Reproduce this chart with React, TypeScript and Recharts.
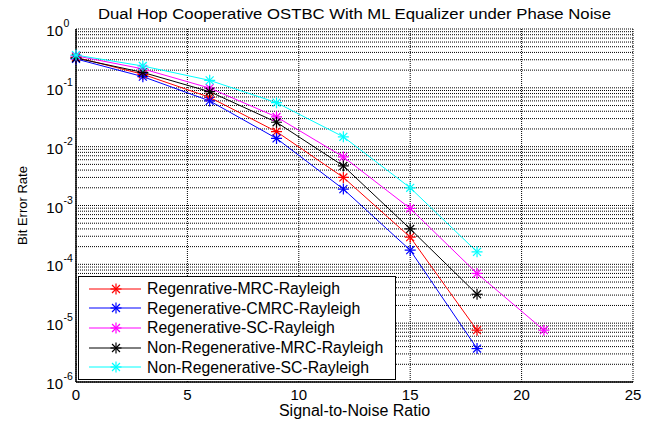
import { CartesianGrid, Label, Legend, Line, LineChart, ReferenceLine, XAxis, YAxis } from "recharts";

const snr = [0, 3, 6, 9, 12, 15, 18, 21];
const regenMrc = [0.33, 0.17, 0.069, 0.018, 0.003, 0.00029, 7.6e-6, null];
const regenCmrc = [0.31, 0.155, 0.06, 0.0138, 0.0019, 0.000174, 3.7e-6, null];
const regenSc = [0.35, 0.21, 0.099, 0.032, 0.0067, 0.00089, 7e-5, 7.6e-6];
const nonRegenMrc = [0.32, 0.183, 0.086, 0.026, 0.0047, 0.0004, 3.1e-5, null];
const nonRegenSc = [0.36, 0.235, 0.134, 0.056, 0.0147, 0.002, 0.000163, null];

const seriesNames = [
  "Regenrative-MRC-Rayleigh",
  "Regenerative-CMRC-Rayleigh",
  "Regenerative-SC-Rayleigh",
  "Non-Regenerative-MRC-Rayleigh",
  "Non-Regenerative-SC-Rayleigh",
];
const seriesColors = ["#ff0000", "#0000ff", "#ff00ff", "#000000", "#00ffff"];
const seriesValues = [regenMrc, regenCmrc, regenSc, nonRegenMrc, nonRegenSc];

const title = "Dual Hop Cooperative OSTBC With ML Equalizer under Phase Noise";
const xLabel = "Signal-to-Noise Ratio";
const yLabel = "Bit Error Rate";

const xTicks = [0, 5, 10, 15, 20, 25];
const decadeExps = [-6, -5, -4, -3, -2, -1, 0];
const yTicks = decadeExps.map((e) => Math.pow(10, e));
const minorTicks = decadeExps
  .slice(0, -1)
  .flatMap((e) => [2, 3, 4, 5, 6, 7, 8, 9].map((k) => k * Math.pow(10, e)));

const data = snr.map((x, i) => {
  const row: Record<string, number | null> = { snr: x };
  seriesValues.forEach((vals, s) => {
    row["s" + s] = vals[i];
  });
  return row;
});

const FONT = "'Liberation Sans', Arial, sans-serif";
const W = 652;
const H = 422;
const M = { top: 29, right: 19, bottom: 0, left: 0 };
const Y_AXIS_W = 76;
const X_AXIS_H = 40;
const plotLeft = M.left + Y_AXIS_W;
const plotRight = W - M.right;

function starDot(color: string) {
  return (props: any) => {
    const { cx, cy, index, value } = props;
    if (cx == null || cy == null || value == null) return <g key={index} />;
    const r = 5.5;
    const d = r * 0.72;
    return (
      <g key={index} stroke={color} strokeWidth={1.2}>
        <line x1={cx - r} y1={cy} x2={cx + r} y2={cy} />
        <line x1={cx} y1={cy - r} x2={cx} y2={cy + r} />
        <line x1={cx - d} y1={cy - d} x2={cx + d} y2={cy + d} />
        <line x1={cx - d} y1={cy + d} x2={cx + d} y2={cy - d} />
      </g>
    );
  };
}

function YTick(props: any) {
  const { y, payload } = props;
  const exp = Math.round(Math.log10(payload.value));
  const x = plotLeft - 13;
  return (
    <g fontFamily={FONT} fill="#000">
      <text x={x} y={y + 7} textAnchor="end" fontSize={15}>
        10
      </text>
      <text x={x + 0.5} y={y - 2} textAnchor="start" fontSize={10.5}>
        {exp}
      </text>
    </g>
  );
}

function XTick(props: any) {
  const { x, payload } = props;
  return (
    <text x={x} y={400} textAnchor="middle" fontSize={15} fontFamily={FONT} fill="#000">
      {payload.value}
    </text>
  );
}

function LegendBox() {
  return (
    <div
      style={{
        border: "1px solid #000",
        background: "#fff",
        padding: "2px 0",
        width: 318,
        fontFamily: FONT,
        fontSize: 15.8,
        boxSizing: "border-box",
      }}
    >
      {seriesNames.map((name, i) => (
        <div key={name} style={{ display: "flex", alignItems: "center", height: 19.6 }}>
          <svg width={68} height={14} style={{ flex: "none" }}>
            <line x1={10} y1={7} x2={62} y2={7} stroke={seriesColors[i]} strokeWidth={1} />
            {starDot(seriesColors[i])({ cx: 37, cy: 7, index: 0, value: 1 })}
          </svg>
          <span style={{ color: "#000", whiteSpace: "nowrap", lineHeight: "19px" }}>{name}</span>
        </div>
      ))}
    </div>
  );
}

export default function App() {
  return (
    <div style={{ position: "absolute", left: 0, top: 0, width: W, height: H, background: "#fff" }}>
      <LineChart width={W} height={H} data={data} margin={M}>
        <CartesianGrid stroke="#000" strokeDasharray="1 1" strokeWidth={1} />
        {minorTicks.map((v) => (
          <ReferenceLine key={v} y={v} stroke="#000" strokeDasharray="1 1" strokeWidth={1} />
        ))}
        <XAxis
          dataKey="snr"
          type="number"
          domain={[0, 25]}
          ticks={xTicks}
          tick={<XTick />}
          tickLine={false}
          axisLine={{ stroke: "#000", strokeWidth: 1.5 }}
          height={X_AXIS_H}
        >
          <Label
            content={(p: any) => (
              <text
                x={p.viewBox.x + p.viewBox.width / 2}
                y={p.viewBox.y + 34}
                textAnchor="middle"
                fontFamily={FONT}
                fontSize={16}
                fill="#000"
              >
                {xLabel}
              </text>
            )}
          />
        </XAxis>
        <XAxis
          xAxisId="top"
          orientation="top"
          dataKey="snr"
          type="number"
          domain={[0, 25]}
          ticks={xTicks}
          tick={false}
          tickLine={false}
          axisLine={{ stroke: "#000", strokeWidth: 1.5 }}
          height={0}
        />
        <YAxis
          scale="log"
          type="number"
          domain={[1e-6, 1]}
          ticks={yTicks}
          allowDataOverflow
          tick={<YTick />}
          tickLine={false}
          axisLine={{ stroke: "#000", strokeWidth: 1.5 }}
          width={Y_AXIS_W}
        >
          <Label
            content={(p: any) => {
              const cx = 27;
              const cy = p.viewBox.y + p.viewBox.height / 2;
              return (
                <text
                  x={cx}
                  y={cy}
                  transform={`rotate(-90 ${cx} ${cy})`}
                  textAnchor="middle"
                  fontFamily={FONT}
                  fontSize={13}
                  fill="#000"
                >
                  {yLabel}
                </text>
              );
            }}
          />
        </YAxis>
        <YAxis
          yAxisId="right"
          orientation="right"
          scale="log"
          type="number"
          domain={[1e-6, 1]}
          tick={false}
          tickLine={false}
          axisLine={{ stroke: "#000", strokeWidth: 1.5 }}
          width={0}
        />
        {seriesNames.map((name, i) => (
          <Line
            key={name}
            name={name}
            dataKey={"s" + i}
            stroke={seriesColors[i]}
            strokeWidth={1}
            dot={starDot(seriesColors[i])}
            activeDot={false}
            isAnimationActive={false}
          />
        ))}
        <Legend
          layout="vertical"
          align="center"
          verticalAlign="middle"
          content={() => <LegendBox />}
          wrapperStyle={{ left: 78, top: 276, width: 318 }}
        />
      </LineChart>
      <svg
        width={W}
        height={28}
        style={{ position: "absolute", left: 0, top: 0, pointerEvents: "none" }}
      >
        <text
          x={(plotLeft + plotRight) / 2}
          y={19}
          textAnchor="middle"
          fontFamily={FONT}
          fontSize={14}
          textLength={513}
          lengthAdjust="spacingAndGlyphs"
          fill="#000"
        >
          {title}
        </text>
      </svg>
    </div>
  );
}
